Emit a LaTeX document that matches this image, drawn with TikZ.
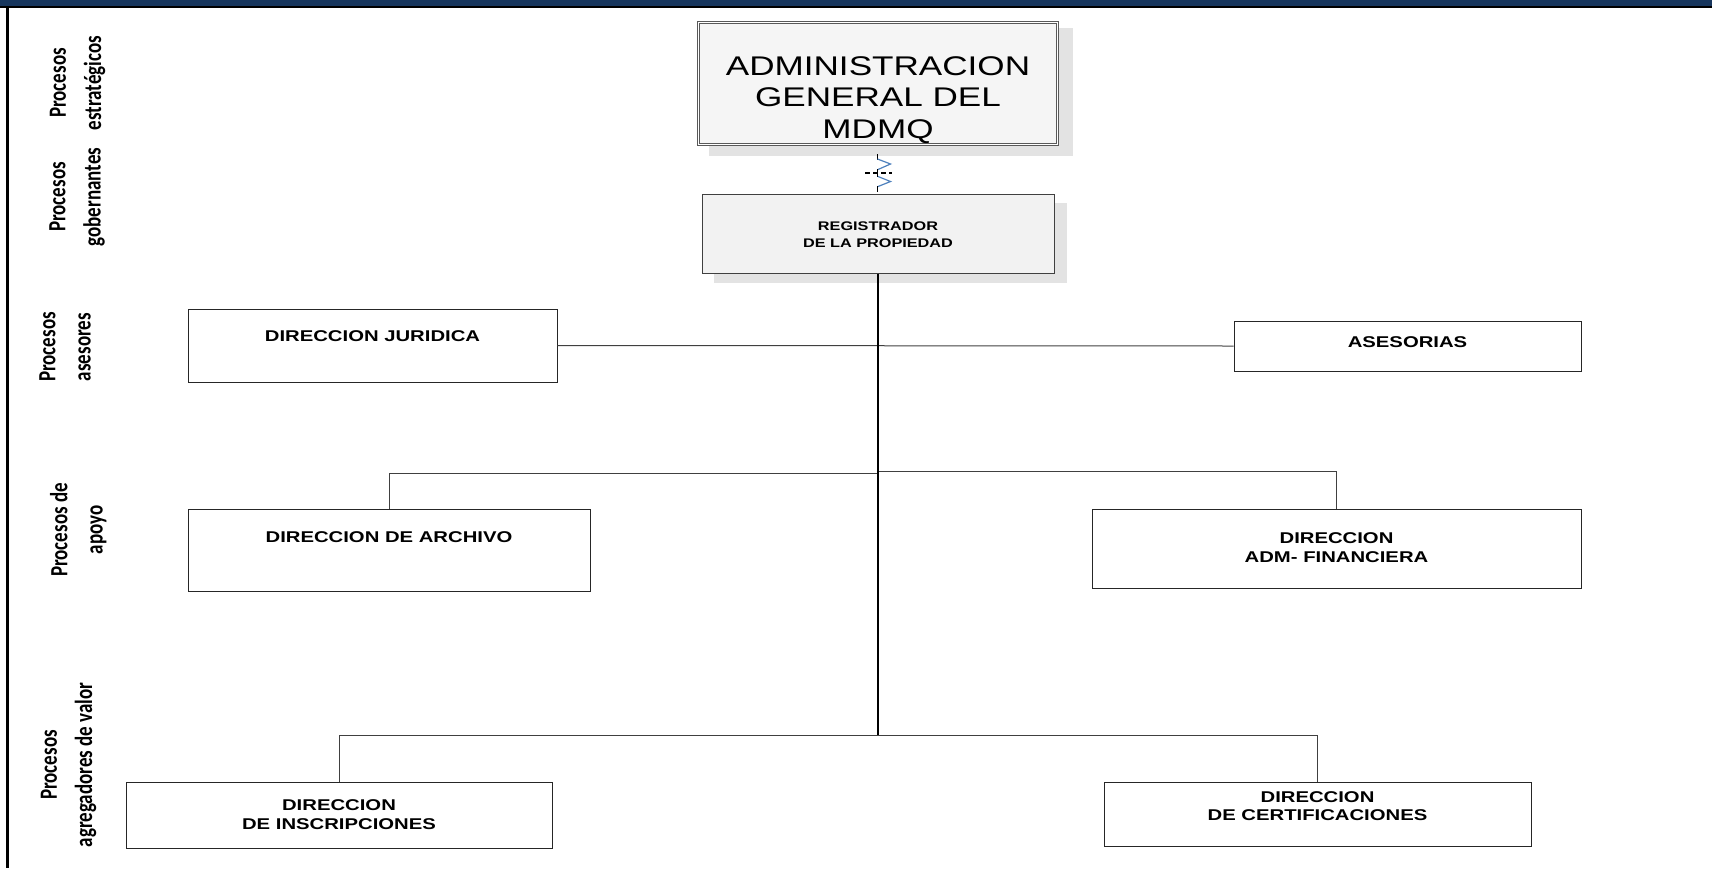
\documentclass[tikz,border=0pt]{standalone}
\usepackage{fontspec}
\usepackage{graphicx}
\usetikzlibrary{calc}
\newfontfamily\boxfont[FakeStretch=1.3]{Liberation Sans}
\newfontfamily\boxbold[FakeStretch=1.3]{Liberation Sans Bold}
\newfontfamily\labfont{Carlito}
\definecolor{navy}{RGB}{23,54,93}
\definecolor{blueone}{RGB}{79,129,189}
\tikzset{
  orgbox/.style={draw=black!85, line width=0.9pt, fill=white, inner sep=0pt},
  btext/.style={font=\boxbold\fontsize{15.6}{18.5}\selectfont, align=center, inner sep=0pt},
  stext/.style={font=\boxbold\fontsize{12.5}{17}\selectfont, align=center, inner sep=0pt},
  lab/.style={rotate=90, inner sep=0pt, font=\labfont\bfseries\fontsize{19}{27}\selectfont},
  shadowbox/.style={fill=black!11, draw=none},
  tree/.style={draw=black!75, line width=1pt},
  trunk/.style={draw=black, line width=1.6pt},
  linkline/.style={draw=black, line width=1pt},
}
\newcommand{\lablines}[2]{\scalebox{1}[1.3]{\begin{tabular}{@{}c@{}}#1\\#2\end{tabular}}}
\begin{document}
\begin{tikzpicture}[x=1pt,y=-1pt]
\useasboundingbox (0,0) rectangle (1712,868);
% frame
\fill[navy] (0,0) rectangle (1712,6);
\fill[black] (0,6) rectangle (1712,8);
\fill[black] (6,6) rectangle (8.5,868);

% side labels
\node[lab] (lstrat) at (76.5,83) {\lablines{Procesos}{estratégicos}};
\node[lab] (lgob) at (76,197) {\lablines{Procesos}{gobernantes}};
\node[lab] (lase) at (66,347) {\lablines{Procesos}{asesores}};
\node[lab] (lapo) at (78,530) {\lablines{Procesos de}{apoyo}};
\node[lab] (lagr) at (67.5,765) {\lablines{Procesos}{agregadores de valor}};

% shadows
\fill[shadowbox] (709,28) rectangle (1073,156);
\fill[shadowbox] (714,203) rectangle (1067,283);

% top box
\node[draw=black!65, double=white, double distance=1.5pt, line width=0.9pt, fill=black!4,
      inner sep=0pt, minimum width=359pt, minimum height=122pt] (admin) at (878,83.5) {};
\node[font=\boxfont\fontsize{27}{31.5}\selectfont, align=center, inner sep=0pt] (admint) at (878,100)
  {ADMINISTRACION\\GENERAL DEL\\MDMQ};

% registrador
\node[orgbox, draw=black!75, line width=1pt, fill=black!5, minimum width=352pt, minimum height=79pt] (reg) at (878,233.5) {};
\node[stext] (regt) at (878,234.5) {REGISTRADOR\\DE LA PROPIEDAD};

% broken link symbol
\draw[linkline] (877.5,154) -- (877.5,160);
\draw[blueone, line width=1.2pt] (877.5,159) -- (890.5,164) -- (878,169.5);
\draw[black, line width=1.3pt, dash pattern=on 5pt off 3pt] (865,173) -- (892,173);
\draw[linkline] (877.5,169) -- (877.5,177);
\draw[blueone, line width=1.2pt] (878,176.5) -- (890.5,181.5) -- (878,186.5);
\draw[linkline] (877.5,186) -- (877.5,192);

% boxes
\node[orgbox, minimum width=369pt, minimum height=73pt] (jur) at (372.5,345.5) {};
\node[btext] (jurt) at (372.5,336) {DIRECCION JURIDICA};
\node[orgbox, minimum width=347pt, minimum height=50pt] (ase) at (1407.5,346) {};
\node[btext] (aset) at (1407.5,342) {ASESORIAS};
\node[orgbox, minimum width=402pt, minimum height=82pt] (arch) at (389,550) {};
\node[btext] (archt) at (389,537) {DIRECCION DE ARCHIVO};
\node[orgbox, minimum width=489pt, minimum height=79pt] (fin) at (1336.5,548.5) {};
\node[btext] (fint) at (1336.5,547.5) {DIRECCION\\ADM- FINANCIERA};
\node[orgbox, minimum width=426pt, minimum height=66pt] (insc) at (339,815) {};
\node[btext] (insct) at (339,814.5) {DIRECCION\\DE INSCRIPCIONES};
\node[orgbox, minimum width=427pt, minimum height=64pt] (cert) at (1317.5,814) {};
\node[btext] (certt) at (1317.5,806) {DIRECCION\\DE CERTIFICACIONES};

% junctions
\coordinate (jA) at (878,473);
\coordinate (jB) at (878,471);
\coordinate (jC) at (878,735);

% connectors
\draw[tree] (jur.east) -- (ase.west);
\draw[tree] (arch.north) |- (jA);
\draw[tree] (fin.north) |- (jB);
\draw[tree] (insc.north) |- (jC);
\draw[tree] (cert.north) |- (jC);
\draw[trunk] (reg.south) -- (jC);
\end{tikzpicture}
\end{document}
